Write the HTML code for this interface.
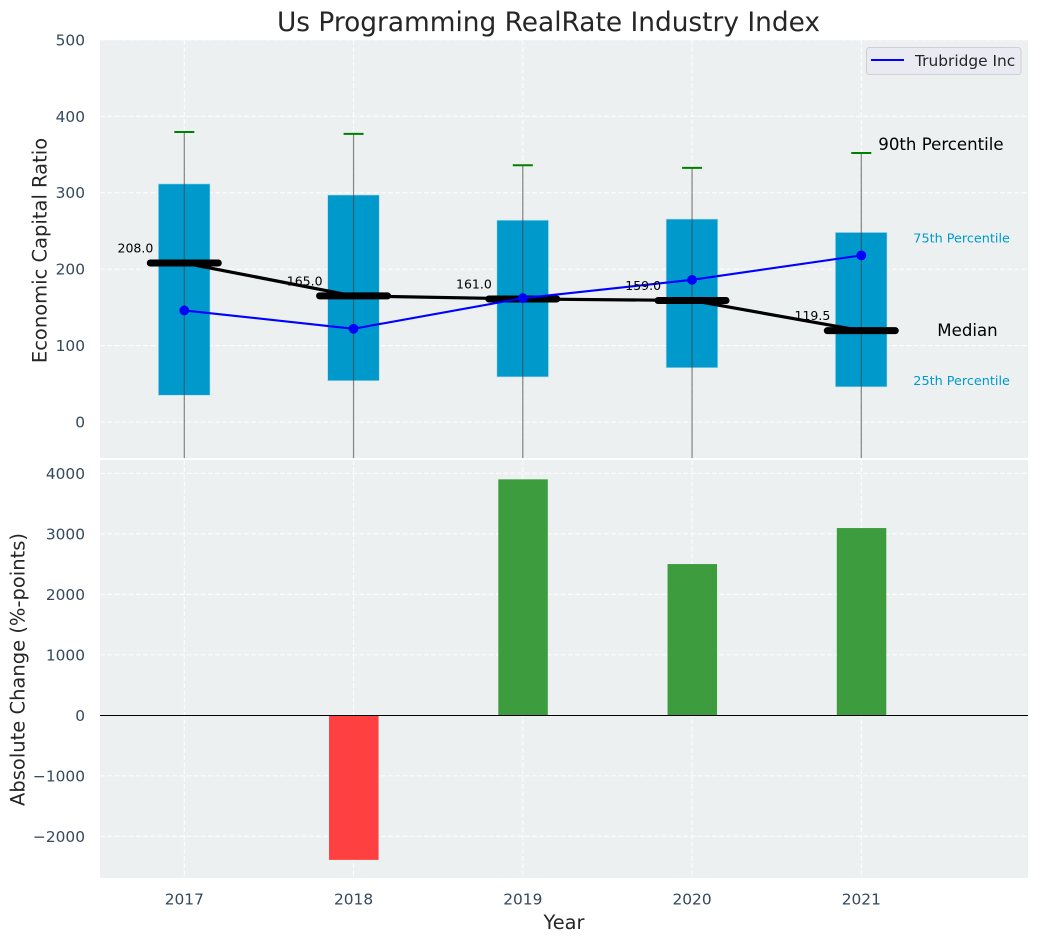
<!DOCTYPE html>
<html lang="en">
<head>
<meta charset="utf-8">
<title>Us Programming RealRate Industry Index</title>
<style>
html,body{margin:0;padding:0;background:#fff;}
svg{display:block;font-family:"DejaVu Sans","Liberation Sans",sans-serif;}
</style>
</head>
<body>
<svg id="chart" xmlns="http://www.w3.org/2000/svg" width="1039" height="942" viewBox="0 0 1039 942">
  <defs>
    <clipPath id="clip-top"><rect x="100" y="40" width="928" height="418"></rect></clipPath>
    <clipPath id="clip-bottom"><rect x="100" y="460" width="928" height="418"></rect></clipPath>
  </defs>
  <rect x="100" y="40" width="928" height="418" fill="#ecf0f1"></rect>
  <rect x="100" y="460" width="928" height="418" fill="#ecf0f1"></rect>
  <g id="grid"></g>
  <g id="top-marks" clip-path="url(#clip-top)"></g>
  <g id="bottom-marks" clip-path="url(#clip-bottom)"></g>
  <g id="tick-labels"></g>
  <g id="annotations"></g>
  <text x="548.5" y="31" text-anchor="middle" font-size="26.4px" fill="#262626">Us Programming RealRate Industry Index</text>
  <text transform="translate(46.5 250.5) rotate(-90)" text-anchor="middle" font-size="19.5px" fill="#262626">Economic Capital Ratio</text>
  <text transform="translate(24.5 669.5) rotate(-90)" text-anchor="middle" font-size="19.5px" fill="#262626">Absolute Change (%-points)</text>
  <text x="564" y="929" text-anchor="middle" font-size="19.4px" fill="#262626">Year</text>
  <g>
    <rect x="866.5" y="47.5" width="154.5" height="27" rx="3" fill="#eaeaf2" stroke="#cfcfd4" stroke-width="1"></rect>
    <line x1="871" x2="904" y1="60" y2="60" stroke="#0000ff" stroke-width="2"></line>
    <text x="915" y="66" font-size="15.4px" fill="#262626">Trubridge Inc</text>
  </g>
</svg>
<script>
const years = [2017, 2018, 2019, 2020, 2021];
const p90 = [379.5, 377, 336, 332.5, 352];
const p75 = [311.5, 297, 264, 265.5, 248];
const medians = [208, 165, 161, 159, 119.5];
const p25 = [35, 54, 59, 71, 46];
const p10 = [-80, -80, -80, -80, -80];
const company = [146, 122, 162, 186, 218];
const changes = [0, -2390, 3900, 2500, 3095];
const topTicks = [0, 100, 200, 300, 400, 500];
const bottomTicks = [-2000, -1000, 0, 1000, 2000, 3000, 4000];

const NS = 'http://www.w3.org/2000/svg';
const xScale = function (v) { return 184.3 + (v - 2017) * 169.25; };
const yTop = function (v) { return 422 - v * 0.7643; };
const yBottom = function (v) { return 715.3 - v * 0.0605; };

function mk(tag, parent, attrs) {
  const el = document.createElementNS(NS, tag);
  Object.keys(attrs).forEach(function (k) { el.setAttribute(k, attrs[k]); });
  parent.appendChild(el);
  return el;
}

const gridG = document.getElementById('grid');
const topG = document.getElementById('top-marks');
const bottomG = document.getElementById('bottom-marks');
const tickG = document.getElementById('tick-labels');
const annG = document.getElementById('annotations');
const gridStyle = { stroke: '#ffffff', 'stroke-width': 1.1, 'stroke-dasharray': '5 2.2', 'stroke-opacity': 0.85 };

topTicks.forEach(function (t) {
  const g = mk('line', gridG, Object.assign({ x1: 100, x2: 1028, y1: yTop(t), y2: yTop(t) }, gridStyle));
  
  
  const l = mk('text', tickG, { x: 85, y: yTop(t) + 5.5, 'text-anchor': 'end', 'font-size': '15.4px', fill: '#34495e' });
  
  
  l.textContent = String(t);
});

bottomTicks.forEach(function (t) {
  const g = mk('line', gridG, Object.assign({ x1: 100, x2: 1028, y1: yBottom(t), y2: yBottom(t) }, gridStyle));
  
  
  const l = mk('text', tickG, { x: 85, y: yBottom(t) + 5.5, 'text-anchor': 'end', 'font-size': '15.4px', fill: '#34495e' });
  
  
  l.textContent = String(t).replace('-', '\u2212');
});

years.forEach(function (yr) {
  const g1 = mk('line', gridG, Object.assign({ x1: xScale(yr), x2: xScale(yr), y1: 40, y2: 458 }, gridStyle));
  
  
  const g2 = mk('line', gridG, Object.assign({ x1: xScale(yr), x2: xScale(yr), y1: 460, y2: 878 }, gridStyle));
  
  
  const l = mk('text', tickG, { x: xScale(yr), y: 904.5, 'text-anchor': 'middle', 'font-size': '15.4px', fill: '#34495e' });
  
  
  l.textContent = String(yr);
});

years.forEach(function (yr, i) {
  const cx = xScale(yr);
  const box = mk('rect', topG, { x: cx - 25.9, y: yTop(p75[i]), width: 51.6, height: yTop(p25[i]) - yTop(p75[i]), fill: '#0099cc', stroke: '#b5dbe8', 'stroke-width': 0.6 });
  
  
  const whisker = mk('line', topG, { x1: cx, x2: cx, y1: yTop(p90[i]), y2: yTop(p10[i]), stroke: '#444444', 'stroke-width': 1.2, 'stroke-opacity': 0.65 });
  
  
  const cap = mk('line', topG, { x1: cx - 10, x2: cx + 10, y1: yTop(p90[i]), y2: yTop(p90[i]), stroke: '#008000', 'stroke-width': 2 });
  
  
  const lab = mk('text', annG, { x: cx - 31, y: yTop(medians[i]) - 10.5, 'text-anchor': 'end', 'font-size': '12.5px', fill: '#000000' });
  
  
  lab.textContent = medians[i].toFixed(1);
});

const medianLine = mk('polyline', topG, {
  points: years.map(function (yr, i) { return xScale(yr) + ',' + yTop(medians[i]); }).join(' '),
  fill: 'none', stroke: '#000000', 'stroke-width': 3.2
});



years.forEach(function (yr, i) {
  const cx = xScale(yr);
  const bar = mk('line', topG, { x1: cx - 34, x2: cx + 34, y1: yTop(medians[i]), y2: yTop(medians[i]), stroke: '#000000', 'stroke-width': 7, 'stroke-linecap': 'round' });
  
  
});

const companyLine = mk('polyline', topG, {
  points: years.map(function (yr, i) { return xScale(yr) + ',' + yTop(company[i]); }).join(' '),
  fill: 'none', stroke: '#0000ff', 'stroke-width': 2.1
});



years.forEach(function (yr, i) {
  const pt = mk('circle', topG, { cx: xScale(yr), cy: yTop(company[i]), r: 4.9, fill: '#0000ff' });
  
  
});

years.forEach(function (yr, i) {
  const v = changes[i];
  if (v === 0) { return; }
  const top = Math.min(yBottom(v), yBottom(0));
  const bar = mk('rect', bottomG, { x: xScale(yr) - 24.5, y: top, width: 49.5, height: Math.abs(yBottom(v) - yBottom(0)), fill: v >= 0 ? '#3c9c3e' : '#ff4040' });
  
  
});

const zero = mk('line', bottomG, { x1: 100, x2: 1028, y1: 715.5, y2: 715.5, stroke: '#000000', 'stroke-width': 1.1 });



const last = years.length - 1;
const lastX = xScale(years[last]);

const a90 = mk('text', annG, { x: lastX + 17, y: yTop(p90[last]) - 3, 'font-size': '16.6px', fill: '#000000' });


a90.textContent = '90th Percentile';

const a75 = mk('text', annG, { x: lastX + 52, y: yTop(p75[last]) + 10, 'font-size': '12.8px', fill: '#0099cc' });


a75.textContent = '75th Percentile';

const aMed = mk('text', annG, { x: lastX + 76, y: yTop(medians[last]) + 5.5, 'font-size': '16.6px', fill: '#000000' });


aMed.textContent = 'Median';

const a25 = mk('text', annG, { x: lastX + 52, y: yTop(p25[last]) - 2, 'font-size': '12.8px', fill: '#0099cc' });


a25.textContent = '25th Percentile';
</script>
</body>
</html>
